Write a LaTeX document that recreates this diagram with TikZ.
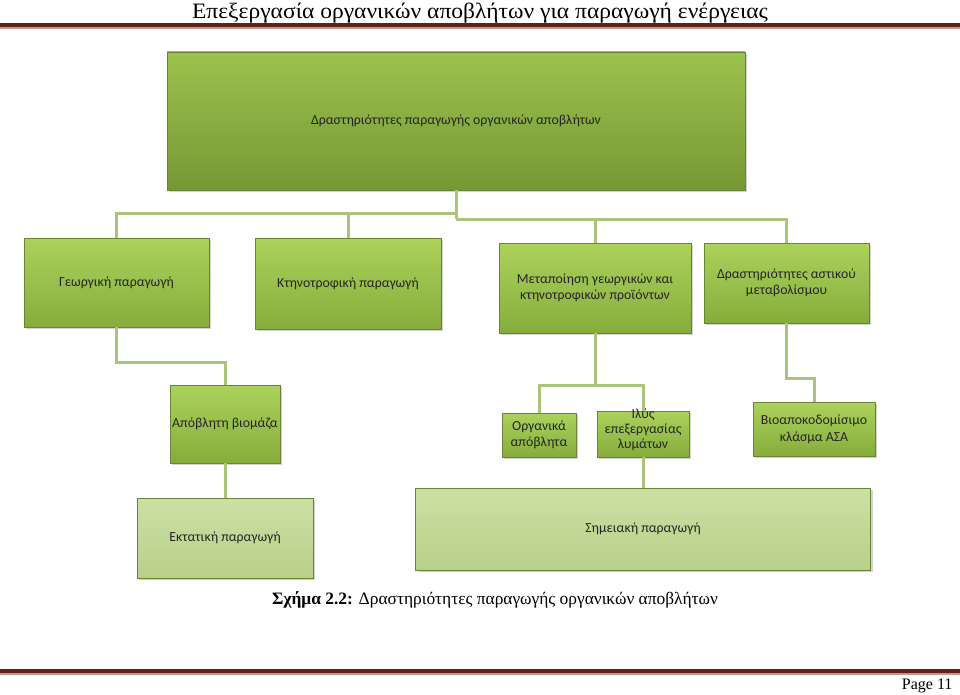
\documentclass[tikz,border=0pt]{standalone}
\usepackage{fontspec}
\setmainfont{Liberation Serif}
\newfontfamily\boxfont{Carlito}
\usetikzlibrary{shadows}
\definecolor{conn}{RGB}{170,196,124}
\definecolor{edge}{RGB}{104,132,52}
\definecolor{maroon}{RGB}{96,32,30}
\definecolor{pink}{RGB}{200,150,140}
\tikzstyle{line} = [draw=conn, line width=3pt]
\tikzstyle{block} = [draw=edge, rectangle, top color={rgb,255:red,172;green,210;blue,92}, bottom color={rgb,255:red,134;green,172;blue,60}, drop shadow={shadow xshift=2pt, shadow yshift=-2pt, opacity=0.35}, font=\boxfont\fontsize{13.8}{16.5}\selectfont, text=black!85, align=center, inner sep=1pt]
\tikzstyle{block0} = [block, top color={rgb,255:red,156;green,194;blue,78}, bottom color={rgb,255:red,118;green,152;blue,52}]
\tikzstyle{block2} = [block, top color={rgb,255:red,204;green,224;blue,164}, bottom color={rgb,255:red,184;green,208;blue,138}]

\begin{document}
\begin{tikzpicture}[x=1pt, y=-1pt]
    \useasboundingbox (0,0) rectangle (960,695);
    % header and footer
    \node [anchor=base] (title) at (480,19) {\fontsize{22}{25}\selectfont\scalebox{1.07}[1]{Επεξεργασία οργανικών αποβλήτων για παραγωγή ενέργειας}};
    \fill [maroon] (0,23) rectangle (960,27);
    \fill [pink] (0,27.5) rectangle (960,29);
    \fill [maroon] (0,669) rectangle (960,672.5);
    \fill [pink] (0,673) rectangle (960,674.5);
    \node [anchor=east] (page) at (956,686) {\fontsize{16}{19}\selectfont Page 11};
    % boxes
    \node [block0, minimum width=578pt, minimum height=138pt] (idx0) at (456,121) {Δραστηριότητες παραγωγής οργανικών αποβλήτων};
    \node [block, minimum width=185pt, minimum height=89pt] (idx1) at (116.5,282.5) {Γεωργική παραγωγή};
    \node [block, minimum width=186pt, minimum height=91pt] (idx2) at (348,283.5) {Κτηνοτροφική παραγωγή};
    \node [block, minimum width=192pt, minimum height=90pt] (idx3) at (595,288) {Μεταποίηση γεωργικών και\\κτηνοτροφικών προϊόντων};
    \node [block, minimum width=165pt, minimum height=80pt] (idx4) at (786.5,283) {Δραστηριότητες αστικού\\μεταβολίσμου};
    \node [block, minimum width=110pt, minimum height=78pt] (idx5) at (225,424) {Απόβλητη βιομάζα};
    \node [block, minimum width=74pt, minimum height=44pt] (idx6) at (539,435) {Οργανικά\\απόβλητα};
    \node [block, minimum width=92pt, minimum height=46pt] (idx7) at (643,434) {\raisebox{0pt}[0pt][0pt]{\begin{tabular}{@{}c@{}}Ιλύς\\[-1.5pt]επεξεργασίας\\[-1.5pt]λυμάτων\end{tabular}}};
    \node [block, minimum width=122pt, minimum height=54pt] (idx8) at (814,429) {Βιοαποκοδομίσιμο\\κλάσμα ΑΣΑ};
    \node [block2, minimum width=176pt, minimum height=80pt] (idx9) at (225,538) {Εκτατική παραγωγή};
    \node [block2, minimum width=455pt, minimum height=82pt] (idx10) at (643,529) {Σημειακή παραγωγή};
    % caption
    \node (cap) at (495,600) {\fontsize{17.4}{20}\selectfont\textbf{Σχήμα 2.2:} Δραστηριότητες παραγωγής οργανικών αποβλήτων};
    % connectors
    \coordinate (busL) at (456,213);
    \coordinate (busR) at (456,219);
    \coordinate (bus3) at (595,385);
    \path [line] (idx0.south) -- (busR);
    \path [line] (busL) -| (idx1.north);
    \path [line] (busL) -| (idx2.north);
    \path [line] (busR) -| (idx3.north);
    \path [line] (busR) -| (idx4.north);
    \path [line] (idx1.south) -- ++(0,35) -| (idx5.north);
    \path [line] (idx3.south) -- (bus3);
    \path [line] (bus3) -| (idx6.north);
    \path [line] (bus3) -| (idx7.north);
    \path [line] (idx4.south) -- ++(0,55) -| (idx8.north);
    \path [line] (idx5.south) -- (idx9.north);
    \path [line] (idx7.south) -- (idx10.north);
\end{tikzpicture}
\end{document}
